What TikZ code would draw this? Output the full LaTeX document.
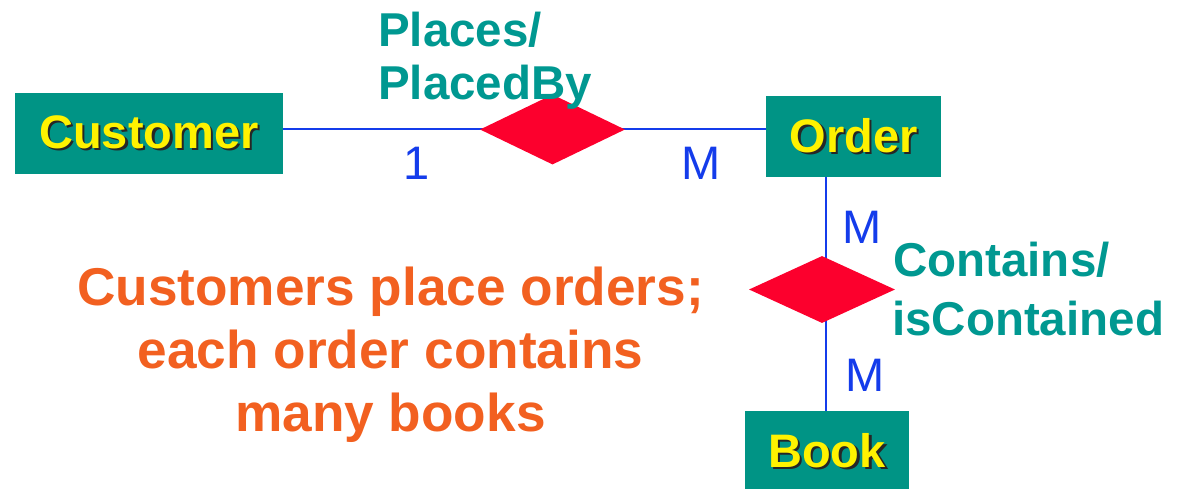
\documentclass[tikz,border=0pt]{standalone}
\usepackage{fontspec}
\setmainfont{Liberation Sans}
\usetikzlibrary{shapes.geometric,backgrounds}

\definecolor{entityfill}{RGB}{0,148,133}
\definecolor{roleteal}{RGB}{0,152,145}
\definecolor{relred}{RGB}{252,0,45}
\definecolor{linkblue}{RGB}{20,60,235}
\definecolor{noteorange}{RGB}{242,96,32}

% yellow label with a dark drop shadow
\newcommand{\shadowed}[1]{\leavevmode\rlap{\kern2.5pt\raisebox{-2.5pt}{\textcolor{black!85}{#1}}}\textcolor{yellow}{#1}}

\tikzset{
  entity/.style={rectangle, fill=entityfill, inner sep=0pt,
    font=\fontsize{47}{55}\selectfont\bfseries},
  relation/.style={diamond, fill=relred, inner sep=0pt},
  link/.style={draw=linkblue, line width=2pt},
  card/.style={text=linkblue, inner sep=0pt, anchor=base,
    font=\fontsize{47}{50}\selectfont},
  role/.style={text=roleteal, inner sep=0pt, anchor=base west,
    font=\fontsize{47.5}{53}\selectfont\bfseries},
  note/.style={text=noteorange, inner sep=0pt, anchor=base,
    font=\fontsize{53.2}{63}\selectfont\bfseries}
}

\begin{document}
\begin{tikzpicture}[x=1pt, y=-1pt]
\useasboundingbox (0,0) rectangle (1177,489);
\clip (0,0) rectangle (1177,489);

% entities
\node[entity, minimum width=268pt, minimum height=81pt] (cust) at (149,133.5) {\shadowed{Customer}};
\node[entity, minimum width=175pt, minimum height=81pt] (order) at (853.5,136.5) {\shadowed{Order}};
\node[entity, minimum width=164pt, minimum height=81pt] (book) at (827,451.5) {\shadowed{Book}};

% relationships
\node[relation, minimum width=145pt, minimum height=70pt] (rel1) at (552.5,129.5) {};
\node[relation, minimum width=146pt, minimum height=67pt] (rel2) at (822,289.5) {};

% connectors behind the diamonds
\coordinate (spine) at (826,0);
\begin{pgfonlayer}{background}
  \draw[link] (cust.east |- rel1) -- (order.west |- rel1);
  \draw[link] (spine |- order.south) -- (spine |- book.north);
\end{pgfonlayer}

% cardinalities
\node[card] (c1) at (417,179) {1};
\node[card] (c2) at (701.5,179) {M};
\node[card] (c3) at (862.5,243) {M};
\node[card] (c4) at (865.5,391) {M};

% relationship names
\node[role] (places) at (378,47) {Places/};
\node[role] (placedby) at (378,100) {PlacedBy};
\node[role] (contains) at (893,276) {Contains/};
\node[role] (iscontained) at (892,335) {isContained};

% caption
\node[note] (note1) at (390.5,305) {Customers place orders;};
\node[note] (note2) at (390.5,368) {each order contains};
\node[note] (note3) at (390.5,431) {many books};
\end{tikzpicture}
\end{document}
